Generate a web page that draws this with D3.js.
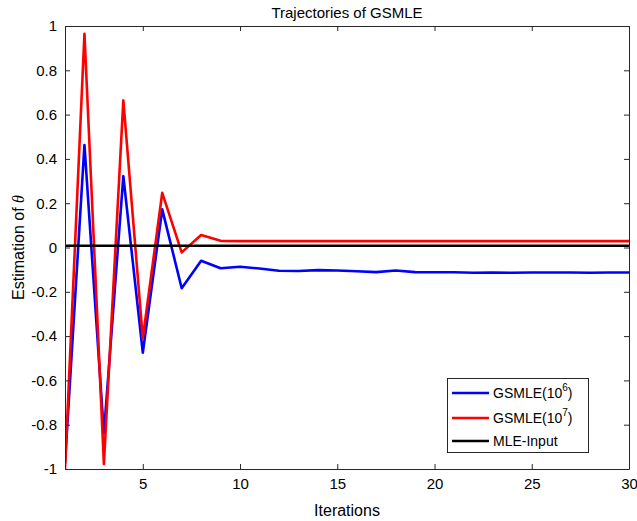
<!DOCTYPE html>
<html><head><meta charset="utf-8">
<script src="https://cdn.jsdelivr.net/npm/d3@7"></script>
<style>html,body{margin:0;padding:0;background:#fff;}svg{display:block;font-family:"Liberation Sans",Arial,sans-serif;}</style>
</head><body>
<script>
const iterations = d3.range(1, 31);
const gsmle6 = [-0.975, 0.463, -0.84, 0.322, -0.475, 0.172, -0.184, -0.060, -0.094, -0.087, -0.095, -0.105, -0.106, -0.102, -0.104, -0.107, -0.111, -0.104, -0.111, -0.112, -0.112, -0.114, -0.113, -0.114, -0.113, -0.113, -0.113, -0.114, -0.113, -0.113];
const gsmle7 = [-1.0, 0.965, -0.977, 0.664, -0.41, 0.247, -0.022, 0.056, 0.030, 0.029, 0.029, 0.029, 0.029, 0.029, 0.029, 0.029, 0.029, 0.029, 0.029, 0.029, 0.029, 0.029, 0.029, 0.029, 0.029, 0.029, 0.029, 0.029, 0.029, 0.029];
const mleInput = 0.008;
const yTicks = d3.range(-1, 1.0001, 0.2).map(v => +v.toFixed(1));
const xTicks = [5, 10, 15, 20, 25, 30];
const seriesNames = ["GSMLE(10^6)", "GSMLE(10^7)", "MLE-Input"];
const seriesColors = ["#0000ff", "#ff0000", "#000000"];

const W = 637, H = 521;
const m = {l: 65, r: 8, t: 26, b: 52};
const svg = d3.select("body").append("svg").attr("width", W).attr("height", H);
const x = d3.scaleLinear().domain([1, 30]).range([m.l, W - m.r]);
const y = d3.scaleLinear().domain([-1, 1]).range([H - m.b, m.t]);
const axCol = "#262626";

svg.append("clipPath").attr("id", "clip").append("rect")
  .attr("x", m.l).attr("y", m.t - 3).attr("width", W - m.r - m.l).attr("height", H - m.b - m.t + 6);

const g = svg.append("g").attr("clip-path", "url(#clip)");
const line = d3.line().x((d, i) => x(iterations[i])).y(d => y(d));
g.append("path").datum(gsmle6).attr("d", line).attr("fill", "none").attr("stroke", seriesColors[0]).attr("stroke-width", 2.6).attr("stroke-linejoin", "round");
g.append("path").datum(gsmle7).attr("d", line).attr("fill", "none").attr("stroke", seriesColors[1]).attr("stroke-width", 2.6).attr("stroke-linejoin", "round");
g.append("line").attr("x1", x(1)).attr("x2", x(30)).attr("y1", y(mleInput)).attr("y2", y(mleInput)).attr("stroke", seriesColors[2]).attr("stroke-width", 2.4);

const fmt = d => d === 0 ? "0" : String(d);
const axL = svg.append("g").attr("transform", `translate(${m.l},0)`)
  .call(d3.axisLeft(y).tickValues(yTicks).tickSizeInner(-5).tickSizeOuter(0).tickPadding(8).tickFormat(fmt));
const axR = svg.append("g").attr("transform", `translate(${W - m.r},0)`)
  .call(d3.axisRight(y).tickValues(yTicks).tickSizeInner(-5).tickSizeOuter(0).tickFormat(""));
const axB = svg.append("g").attr("transform", `translate(0,${H - m.b})`)
  .call(d3.axisBottom(x).tickValues(xTicks).tickSizeInner(-5).tickSizeOuter(0).tickPadding(9));
const axT = svg.append("g").attr("transform", `translate(0,${m.t})`)
  .call(d3.axisTop(x).tickValues(xTicks).tickSizeInner(-5).tickSizeOuter(0).tickFormat(""));
[axL, axR, axB, axT].forEach(a => {
  a.select(".domain").attr("stroke", axCol).attr("stroke-width", 1);
  a.selectAll(".tick line").attr("stroke", axCol);
  a.selectAll(".tick text").attr("fill", "#000").attr("font-size", 15).attr("font-family", '"Liberation Sans",Arial,sans-serif');
});

svg.append("text").attr("x", (m.l + W - m.r) / 2).attr("y", 18).attr("text-anchor", "middle")
  .attr("font-size", 15).attr("fill", "#000").text("Trajectories of GSMLE");
svg.append("text").attr("x", (m.l + W - m.r) / 2).attr("y", 516).attr("text-anchor", "middle")
  .attr("font-size", 16).attr("fill", "#000").text("Iterations");
const yl = svg.append("text").attr("transform", `translate(24,${(m.t + H - m.b) / 2}) rotate(-90)`)
  .attr("text-anchor", "middle").attr("font-size", 16).attr("fill", "#000");
yl.append("tspan").text("Estimation of ");
yl.append("tspan").attr("font-style", "italic").attr("font-family", '"Liberation Serif","Times New Roman",serif').text("θ");

const lg = svg.append("g");
lg.append("rect").attr("x", 447.5).attr("y", 378.5).attr("width", 141).attr("height", 74)
  .attr("fill", "#fff").attr("stroke", axCol).attr("stroke-width", 1);
const rows = [393, 418, 441];
seriesNames.forEach((n, i) => {
  lg.append("line").attr("x1", 452).attr("x2", 489).attr("y1", rows[i]).attr("y2", rows[i])
    .attr("stroke", seriesColors[i]).attr("stroke-width", 2.4);
  const t = lg.append("text").attr("x", 493).attr("y", rows[i] + 5).attr("font-size", 14).attr("fill", "#000");
  const mm = n.match(/^(.*\(10)\^(\d)\)$/);
  if (mm) {
    t.append("tspan").text(mm[1]);
    t.append("tspan").attr("dy", -7).attr("font-size", 10).text(mm[2]);
    t.append("tspan").attr("dy", 7).text(")");
  } else t.text(n);
});
</script>
</body></html>
